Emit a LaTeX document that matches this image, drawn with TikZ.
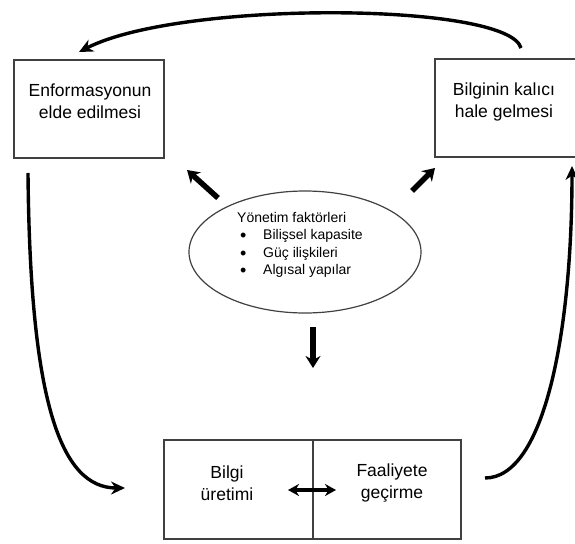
\documentclass[tikz,border=0pt]{standalone}
\usepackage{fontspec}
\setmainfont{Liberation Sans}
\usetikzlibrary{arrows.meta,shapes.geometric}

\newcommand{\madde}[1]{\makebox[26pt][l]{\hspace*{3pt}\raisebox{-2pt}{\fontsize{18}{17.5}\selectfont\textbullet}}#1}

\begin{document}
\begin{tikzpicture}[x=1pt, y=-1pt,
  kutu/.style={draw=black!75, line width=1.4pt, inner sep=0pt},
  yazi/.style={align=center, font=\fontsize{17.5}{22}\selectfont, inner sep=0pt},
  akis/.style={line width=3.4pt, -{Stealth[length=14pt, width=13pt]}},
  kalin/.style={line width=5.5pt, -{Stealth[length=12pt, width=15pt]}}]
  \useasboundingbox (0, 0) rectangle (575, 543);

  % Boxes
  \node[kutu, minimum width=150, minimum height=98] (enf) at (89, 109) {};
  \node[kutu, minimum width=146, minimum height=98] (kal) at (508, 108) {};
  \node[kutu, minimum width=149, minimum height=99] (bilgi) at (238.5, 489.5) {};
  \node[kutu, minimum width=148, minimum height=99] (faal) at (387, 489.5) {};

  \node[yazi] (enf-t) at (90, 101) {Enformasyonun\\elde edilmesi};
  \node[yazi] (kal-t) at (504, 102) {Bilginin kalıcı\\hale gelmesi};
  \node[yazi] (bilgi-t) at (227, 483) {Bilgi\\üretimi};
  \node[yazi] (faal-t) at (392, 483) {Faaliyete\\geçirme};

  % Management factors
  \node[draw=black!75, line width=1.2pt, ellipse, minimum width=232, minimum height=122]
    (yon) at (305, 252) {};
  \node[align=left, anchor=west, inner sep=0pt, font=\fontsize{14}{17.5}\selectfont]
    (yon-t) at (237, 245)
    {Yönetim faktörleri\\\madde{Bilişsel kapasite}\\\madde{Güç ilişkileri}\\\madde{Algısal yapılar}};

  % Cycle
  \coordinate (kal-c) at (521, 48);
  \coordinate (enf-c) at (79, 52);
  \draw[akis] (kal-c) .. controls (508, 2) and (180, 0) .. (enf-c);

  \coordinate (enf-a) at (28, 173);
  \coordinate (bilgi-c) at (125, 488);
  \draw[akis] (enf-a) .. controls (30, 400) and (60, 488) .. (bilgi-c);

  \coordinate (faal-c) at (485, 478);
  \coordinate (kal-a) at (572, 166);
  \draw[akis] (faal-c) .. controls (545, 478) and (572, 330) .. (kal-a);

  % Ellipse arrows
  \coordinate (yon-sol) at (218, 198);
  \coordinate (enf-k) at (187, 170);
  \draw[kalin] (yon-sol) -- (enf-k);
  \coordinate (yon-sag) at (412, 191);
  \coordinate (kal-k) at (435, 168);
  \draw[kalin] (yon-sag) -- (kal-k);
  \coordinate (yon-alt) at (313, 327);
  \coordinate (bilgi-k) at (313, 368);
  \draw[kalin] (yon-alt) -- (bilgi-k);

  % Double arrow
  \coordinate (bilgi-o) at (288, 490);
  \coordinate (faal-o) at (336, 490);
  \draw[line width=3.4pt, {Stealth[length=11pt, width=12pt]}-{Stealth[length=11pt, width=12pt]}]
    (bilgi-o) -- (faal-o);
\end{tikzpicture}
\end{document}
